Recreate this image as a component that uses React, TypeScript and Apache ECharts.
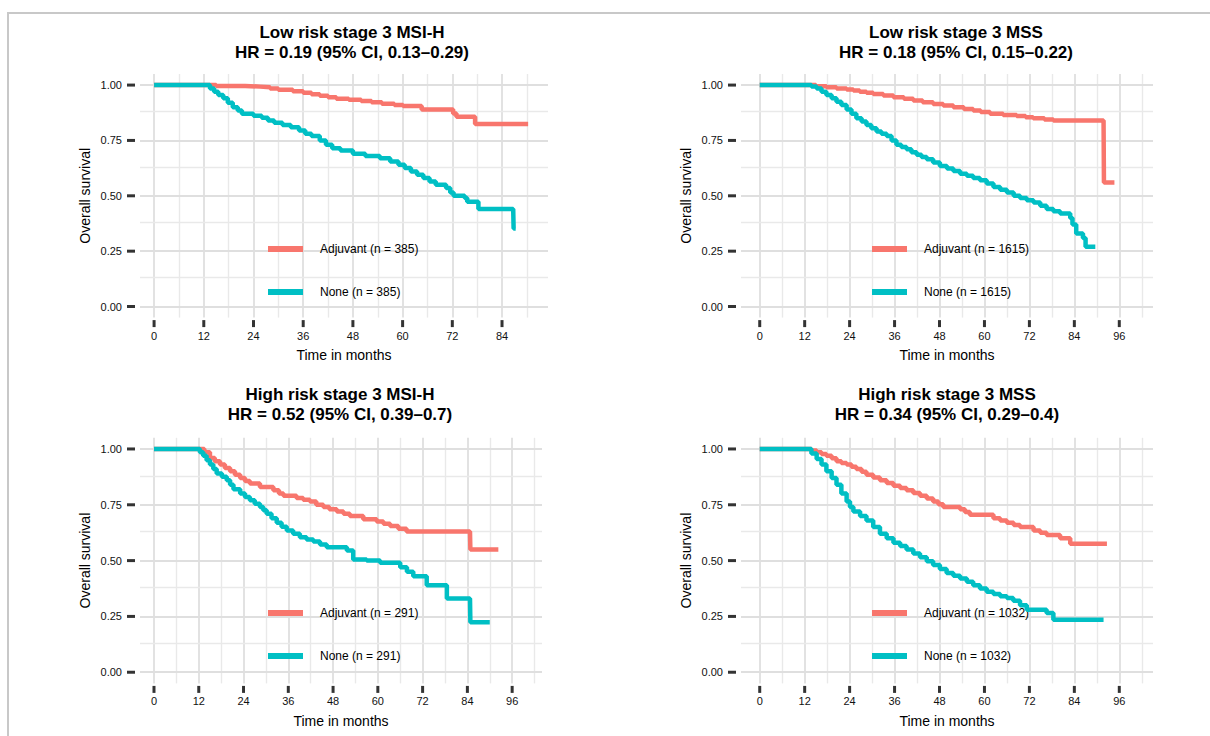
import { useEffect, useRef } from "react";
import * as echarts from "echarts";

// ---------- data (months, overall survival) ----------
const lowMsiAdjuvant: [number, number][] = [
  [0, 1], [14.5, 1], [15, 0.996], [22, 0.993], [25.6, 0.99], [28, 0.984], [30, 0.979], [33.5, 0.972],
  [36, 0.965], [38, 0.958], [40, 0.952], [42, 0.945], [44, 0.938], [47, 0.934], [50, 0.928], [52.5, 0.922],
  [55, 0.916], [58, 0.91], [60.1, 0.905], [64.6, 0.89], [72.2, 0.872], [73, 0.857], [77.5, 0.824], [90.3, 0.824],
];
const lowMsiNone: [number, number][] = [
  [0, 1], [12.7, 1], [13.5, 0.985], [14.5, 0.97], [15.5, 0.955], [16.7, 0.94], [17.8, 0.92], [19, 0.9],
  [20.2, 0.885], [21.2, 0.87], [24, 0.862], [26, 0.852], [27.5, 0.84], [29, 0.83], [31, 0.82], [33, 0.81],
  [35, 0.795], [36.5, 0.78], [38, 0.77], [40, 0.75], [41.5, 0.73], [43, 0.715], [45, 0.705], [48, 0.69],
  [51, 0.68], [54.5, 0.67], [57, 0.655], [59, 0.64], [60.5, 0.625], [62, 0.61], [63.5, 0.595], [65, 0.58],
  [66.5, 0.565], [68, 0.55], [70.5, 0.535], [71.5, 0.515], [72.3, 0.5], [75, 0.49], [75.6, 0.473],
  [78.3, 0.44], [86.7, 0.44], [86.8, 0.352], [87.3, 0.352],
];
const lowMssAdjuvant: [number, number][] = [
  [0, 1], [13, 1], [15, 0.995], [17.8, 0.99], [20.5, 0.985], [23.2, 0.98], [25, 0.975], [26.7, 0.97],
  [28.5, 0.965], [30.3, 0.96], [33, 0.953], [35.7, 0.945], [38.5, 0.938], [41, 0.93], [43.5, 0.922],
  [46.3, 0.915], [49, 0.908], [51.7, 0.9], [54.5, 0.892], [57, 0.885], [59, 0.878], [61.5, 0.87],
  [65, 0.865], [68.6, 0.86], [71, 0.855], [73, 0.85], [76, 0.845], [78.4, 0.84], [91.8, 0.84],
  [91.9, 0.56], [94.7, 0.56],
];
const lowMssNone: [number, number][] = [
  [0, 1], [12.5, 1], [13.8, 0.993], [15.2, 0.985], [16.5, 0.97], [17.8, 0.955], [19.2, 0.94], [20.5, 0.925],
  [21.8, 0.91], [23.2, 0.89], [24.5, 0.87], [25.8, 0.85], [27.2, 0.835], [28.5, 0.82], [29.8, 0.805],
  [31.2, 0.79], [32.5, 0.78], [33.9, 0.77], [35.2, 0.75], [36.5, 0.73], [37.8, 0.72], [39.2, 0.71],
  [40.5, 0.697], [41.9, 0.685], [43.2, 0.675], [44.6, 0.665], [46.3, 0.65], [48.1, 0.635], [50, 0.623],
  [51.7, 0.612], [53.5, 0.6], [55.3, 0.59], [57, 0.58], [58.8, 0.57], [60.6, 0.555], [62.4, 0.54],
  [64.2, 0.527], [66, 0.515], [67.8, 0.5], [69.5, 0.49], [71.3, 0.48], [73.1, 0.47], [74.9, 0.455],
  [76.6, 0.44], [78.4, 0.43], [80.2, 0.42], [82.9, 0.4], [83.5, 0.37], [84.5, 0.33], [86.3, 0.31],
  [87, 0.27], [89.6, 0.27],
];
const highMsiAdjuvant: [number, number][] = [
  [0, 1], [12.3, 1], [13.5, 0.985], [15, 0.96], [16.3, 0.945], [17.7, 0.93], [19, 0.915], [20.4, 0.9],
  [21.7, 0.885], [23.1, 0.87], [24.4, 0.857], [25.7, 0.845], [28.4, 0.83], [32, 0.815], [33.5, 0.8],
  [34.7, 0.79], [38.2, 0.78], [40, 0.772], [41.8, 0.765], [43.5, 0.75], [45.4, 0.74], [47, 0.73],
  [49, 0.72], [50.8, 0.71], [52.5, 0.7], [56.1, 0.685], [59.7, 0.675], [61.5, 0.665], [63.3, 0.655],
  [65.5, 0.643], [67.7, 0.63], [84.7, 0.63], [84.8, 0.55], [92.3, 0.55],
];
const highMsiNone: [number, number][] = [
  [0, 1], [11.4, 1], [12.3, 0.985], [13.2, 0.97], [14.1, 0.95], [15, 0.93], [15.9, 0.91], [16.8, 0.89],
  [18.2, 0.875], [19.5, 0.86], [20.4, 0.84], [21.3, 0.82], [23.1, 0.8], [24.4, 0.785], [25.7, 0.77],
  [27, 0.755], [28.4, 0.74], [29.3, 0.725], [30.2, 0.71], [31.5, 0.69], [32.9, 0.67], [34.2, 0.652],
  [35.6, 0.635], [37.3, 0.62], [39.1, 0.605], [40.9, 0.595], [42.7, 0.585], [44.5, 0.572], [46.3, 0.56],
  [51.7, 0.545], [53.4, 0.505], [57, 0.5], [60.6, 0.49], [66, 0.47], [67.8, 0.45], [69.5, 0.43],
  [73.1, 0.39], [78.5, 0.33], [84.7, 0.33], [84.8, 0.224], [90, 0.224],
];
const highMssAdjuvant: [number, number][] = [
  [0, 1], [12.5, 1], [13.8, 0.993], [15.2, 0.985], [16.5, 0.978], [17.8, 0.97], [19.2, 0.958], [20.5, 0.945],
  [21.8, 0.937], [23.2, 0.93], [24.5, 0.92], [25.8, 0.91], [27.2, 0.898], [28.5, 0.885], [30.3, 0.872],
  [32.1, 0.86], [33.9, 0.848], [35.7, 0.835], [37.5, 0.825], [39.2, 0.815], [41, 0.803], [42.8, 0.79],
  [44.6, 0.778], [46.3, 0.765], [47.7, 0.752], [49, 0.74], [53.5, 0.73], [54.8, 0.718], [56.1, 0.705],
  [62.4, 0.69], [64.2, 0.68], [66, 0.67], [67.8, 0.66], [69.5, 0.65], [73.1, 0.635], [74.9, 0.625],
  [76.6, 0.615], [80.2, 0.6], [82.9, 0.575], [92.7, 0.575],
];
const highMssNone: [number, number][] = [
  [0, 1], [12.5, 1], [13.8, 0.98], [15.2, 0.955], [16.5, 0.93], [17.8, 0.9], [19.2, 0.87], [20.5, 0.84],
  [21.8, 0.8], [23.2, 0.765], [24.1, 0.74], [25, 0.72], [26.8, 0.7], [28.5, 0.68], [30.3, 0.65],
  [32.1, 0.62], [33.9, 0.6], [35.7, 0.58], [37.5, 0.565], [39.2, 0.55], [41, 0.532], [42.8, 0.515],
  [44.6, 0.497], [46.3, 0.48], [48.1, 0.462], [49.9, 0.445], [51.7, 0.432], [53.5, 0.42], [55.3, 0.405],
  [57, 0.39], [58.8, 0.375], [60.6, 0.36], [62.4, 0.35], [64.2, 0.34], [66, 0.333], [67.7, 0.32],
  [69.5, 0.3], [71.3, 0.28], [76.6, 0.265], [78.4, 0.235], [91.8, 0.235],
];

const panelTitles = ["Low risk stage 3 MSI-H", "Low risk stage 3 MSS", "High risk stage 3 MSI-H", "High risk stage 3 MSS"];
const hrLabels = [
  "HR = 0.19 (95% CI, 0.13–0.29)",
  "HR = 0.18 (95% CI, 0.15–0.22)",
  "HR = 0.52 (95% CI, 0.39–0.7)",
  "HR = 0.34 (95% CI, 0.29–0.4)",
];
const groupSizes = [385, 1615, 291, 1032];
const adjuvantCurves = [lowMsiAdjuvant, lowMssAdjuvant, highMsiAdjuvant, highMssAdjuvant];
const noneCurves = [lowMsiNone, lowMssNone, highMsiNone, highMssNone];

const xTicksTo84 = [0, 12, 24, 36, 48, 60, 72, 84];
const xTicksTo96 = [0, 12, 24, 36, 48, 60, 72, 84, 96];
const xMinorBreaks = [6, 18, 30, 42, 54, 66, 78, 90, 102];
const yTicks = [0, 0.25, 0.5, 0.75, 1];
const yMinorBreaks = [0.125, 0.375, 0.625, 0.875];
const panelXTicks = [xTicksTo84, xTicksTo96, xTicksTo96, xTicksTo96];

// ---------- layout / style ----------
const FONT = "'Liberation Sans', Arial, sans-serif";
const RED = "#F8766D";
const TEAL = "#00BFC4";
const Y_MIN = -0.05;
const Y_MAX = 1.05;
const layout = [
  { left: 140, top: 74, width: 408, height: 243.6, xMin: -3.4, xMax: 95.1, titleX: 352, titleTop: 22, legendTop: 242 },
  { left: 741, top: 74, width: 412, height: 243.6, xMin: -5, xMax: 105, titleX: 956, titleTop: 22, legendTop: 242 },
  { left: 140, top: 437.8, width: 402, height: 245.6, xMin: -3.75, xMax: 104, titleX: 340, titleTop: 384, legendTop: 606 },
  { left: 741, top: 437.8, width: 412, height: 245.6, xMin: -5, xMax: 105, titleX: 947, titleTop: 384, legendTop: 606 },
];
const legendLeft = [268, 872, 268, 872];

export default function App() {
  const ref = useRef<HTMLDivElement>(null);

  useEffect(() => {
    if (!ref.current) return;
    const chart = echarts.init(ref.current, undefined, { renderer: "svg" });

    const majorGrid = { color: "#dfdfdf", width: 1.8, type: "solid" };
    const minorGrid = { color: "#e9e9e9", width: 1.4, type: "solid" };

    const title: any[] = [];
    const legend: any[] = [];
    const grid: any[] = [];
    const xAxis: any[] = [];
    const yAxis: any[] = [];
    const series: any[] = [];

    layout.forEach((L, i) => {
      const adjName = `Adjuvant (n = ${groupSizes[i]})`;
      const noneName = `None (n = ${groupSizes[i]})`;
      title.push({
        text: `${panelTitles[i]}\n${hrLabels[i]}`,
        left: L.titleX,
        top: L.titleTop,
        textAlign: "center",
        padding: 0,
        textStyle: { fontFamily: FONT, fontSize: 17, fontWeight: "bold", color: "#000", lineHeight: 20 },
      });
      legend.push({
        data: [adjName, noneName],
        orient: "vertical",
        left: legendLeft[i],
        top: L.legendTop,
        padding: 0,
        itemWidth: 35,
        itemHeight: 6,
        itemGap: 29,
        icon: "rect",
        selectedMode: false,
        textStyle: { fontFamily: FONT, fontSize: 12, color: "#000", lineHeight: 14, padding: [0, 0, 0, 12] },
      });
      grid.push({ left: L.left, top: L.top, width: L.width, height: L.height, containLabel: false });
      xAxis.push({
        type: "value",
        gridIndex: i,
        min: L.xMin,
        max: L.xMax,
        offset: 2.5,
        axisLine: { show: false },
        axisTick: { show: false },
        axisLabel: {
          customValues: panelXTicks[i],
          margin: 10,
          fontFamily: FONT,
          fontSize: 11,
          color: "#111",
          formatter: (v: number) => String(v),
        },
        splitLine: { show: false },
        minorSplitLine: { show: false },
        name: "Time in months",
        nameLocation: "middle",
        nameGap: 28,
        nameTextStyle: { fontFamily: FONT, fontSize: 14, color: "#000" },
      });
      yAxis.push({
        type: "value",
        gridIndex: i,
        min: Y_MIN,
        max: Y_MAX,
        offset: 5,
        axisLine: { show: false },
        axisTick: { show: false },
        axisLabel: {
          customValues: yTicks,
          margin: 13,
          fontFamily: FONT,
          fontSize: 11,
          color: "#111",
          formatter: (v: number) => v.toFixed(2),
        },
        splitLine: { show: false },
        minorSplitLine: { show: false },
        name: "Overall survival",
        nameLocation: "middle",
        nameGap: 43,
        nameTextStyle: { fontFamily: FONT, fontSize: 14, color: "#000" },
      });

      const gridLines = [
        ...panelXTicks[i].filter((v) => v >= L.xMin && v <= L.xMax).map((v) => ({ xAxis: v, lineStyle: majorGrid })),
        ...xMinorBreaks.filter((v) => v >= L.xMin && v <= L.xMax).map((v) => ({ xAxis: v, lineStyle: minorGrid })),
        ...yTicks.map((v) => ({ yAxis: v, lineStyle: majorGrid })),
        ...yMinorBreaks.map((v) => ({ yAxis: v, lineStyle: minorGrid })),
      ];
      series.push({
        type: "line",
        xAxisIndex: i,
        yAxisIndex: i,
        data: [],
        silent: true,
        z: 1,
        markLine: {
          silent: true,
          symbol: ["none", "none"],
          label: { show: false },
          z: 1,
          animation: false,
          data: gridLines,
        },
      });
      // axis tick marks (drawn at the axis values, outside the panel)
      series.push({
        type: "scatter",
        xAxisIndex: i,
        yAxisIndex: i,
        data: panelXTicks[i].map((v) => [v, Y_MIN]),
        symbol: "rect",
        symbolSize: [3, 7],
        symbolOffset: [0, 6],
        itemStyle: { color: "#000" },
        clip: false,
        silent: true,
        z: 5,
      });
      series.push({
        type: "scatter",
        xAxisIndex: i,
        yAxisIndex: i,
        data: yTicks.map((v) => [L.xMin, v]),
        symbol: "rect",
        symbolSize: [8, 3],
        symbolOffset: [-9, 0],
        itemStyle: { color: "#000" },
        clip: false,
        silent: true,
        z: 5,
      });
      series.push({
        name: adjName,
        type: "line",
        step: "end",
        xAxisIndex: i,
        yAxisIndex: i,
        data: adjuvantCurves[i],
        showSymbol: false,
        color: RED,
        itemStyle: { color: RED },
        lineStyle: { color: RED, width: 4.5 },
        z: 3,
      });
      series.push({
        name: noneName,
        type: "line",
        step: "end",
        xAxisIndex: i,
        yAxisIndex: i,
        data: noneCurves[i],
        showSymbol: false,
        color: TEAL,
        itemStyle: { color: TEAL },
        lineStyle: { color: TEAL, width: 4.5 },
        z: 4,
      });
    });

    chart.setOption({
      animation: false,
      backgroundColor: "#ffffff",
      textStyle: { fontFamily: FONT },
      title,
      legend,
      grid,
      xAxis,
      yAxis,
      series,
      graphic: [
        { type: "line", shape: { x1: 7, y1: 13, x2: 1210, y2: 13 }, style: { stroke: "#c8c8c8", lineWidth: 2 }, silent: true },
        { type: "line", shape: { x1: 8, y1: 13, x2: 8, y2: 736 }, style: { stroke: "#c8c8c8", lineWidth: 2 }, silent: true },
      ],
    });

    return () => chart.dispose();
  }, []);

  return (
    <div
      ref={ref}
      style={{ position: "absolute", left: 0, top: 0, width: 1210, height: 736, background: "#fff" }}
    />
  );
}
